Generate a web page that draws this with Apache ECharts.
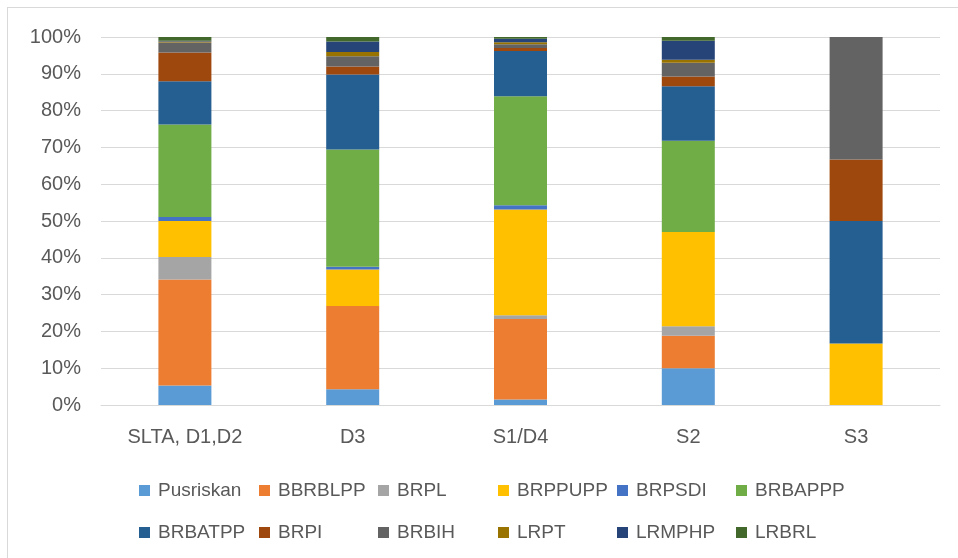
<!DOCTYPE html>
<html>
<head>
<meta charset="utf-8">
<script src="https://cdn.jsdelivr.net/npm/echarts@6/dist/echarts.min.js"></script>
<style>
  html, body { margin: 0; padding: 0; background: #fff; }
  #frame { position: absolute; left: 7px; top: 7px; width: 960px; height: 560px; border: 1px solid #d9d9d9; box-sizing: border-box; }
  #chart { position: absolute; left: 0; top: 0; width: 958px; height: 558px; }
</style>
</head>
<body>
<div id="frame"></div>
<div id="chart"></div>
<script>
// Education levels along the x axis
const categories = ['SLTA, D1,D2', 'D3', 'S1/D4', 'S2', 'S3'];

// Share (%) of each unit within every education level
const pusriskan = [5.3, 4.3, 1.5, 10.0, 0];
const bbrblpp   = [28.8, 22.6, 21.9, 8.8, 0];
const brpl      = [6.1, 0, 1.0, 2.6, 0];
const brppupp   = [9.8, 9.9, 28.7, 25.6, 16.7];
const brpsdi    = [1.1, 0.8, 1.2, 0, 0];
const brbappp   = [25.1, 31.8, 29.6, 24.8, 0];
const brbatpp   = [11.8, 20.4, 12.3, 14.8, 33.3];
const brpi      = [7.8, 2.2, 0.8, 2.7, 16.7];
const brbih     = [2.7, 2.8, 1.0, 3.7, 33.3];
const lrpt      = [0.3, 1.1, 0.6, 0.8, 0];
const lrmphp    = [0.2, 2.9, 0.9, 5.2, 0];
const lrbrl     = [1.0, 1.2, 0.5, 1.0, 0];

const seriesNames = ['Pusriskan', 'BBRBLPP', 'BRPL', 'BRPPUPP', 'BRPSDI', 'BRBAPPP',
                     'BRBATPP', 'BRPI', 'BRBIH', 'LRPT', 'LRMPHP', 'LRBRL'];
const seriesValues = [pusriskan, bbrblpp, brpl, brppupp, brpsdi, brbappp,
                      brbatpp, brpi, brbih, lrpt, lrmphp, lrbrl];

// Y axis tick labels
const yTicks = ['0%', '10%', '20%', '30%', '40%', '50%', '60%', '70%', '80%', '90%', '100%'];

const colors = ['#5B9BD5', '#ED7D31', '#A5A5A5', '#FFC000', '#4472C4', '#70AD47',
                '#255E91', '#9E480E', '#636363', '#997300', '#264478', '#43682B'];

const FONT = 'Liberation Sans';
const TEXT = '#595959';

// Legend laid out as a 6 x 2 grid
const legendCols = [134, 254, 373, 493, 612, 731];
const legendRows = [476, 518];
const legends = seriesNames.map((name, i) => ({
  data: [name],
  left: legendCols[i % 6],
  top: legendRows[Math.floor(i / 6)],
  icon: 'rect',
  itemWidth: 11,
  itemHeight: 11,
  selectedMode: false,
  textStyle: { fontFamily: FONT, fontSize: 19, color: TEXT, padding: [0, 0, 0, 3] }
}));

const chart = echarts.init(document.getElementById('chart'), null, { renderer: 'canvas' });
chart.setOption({
  animation: false,
  color: colors,
  grid: { left: 101, right: 18, top: 37, bottom: 153, containLabel: false },
  legend: legends,
  xAxis: {
    type: 'category',
    data: categories,
    axisLine: { show: true, lineStyle: { color: '#d9d9d9', width: 1 } },
    axisTick: { show: false },
    axisLabel: { fontFamily: FONT, fontSize: 20, color: TEXT, margin: 22 }
  },
  yAxis: {
    type: 'value',
    min: 0,
    max: 100,
    interval: 10,
    axisLine: { show: false },
    axisTick: { show: false },
    splitLine: { lineStyle: { color: '#d9d9d9', width: 1 } },
    axisLabel: {
      fontFamily: FONT, fontSize: 20, color: TEXT, margin: 20,
      formatter: v => yTicks[Math.round(v / 10)]
    }
  },
  series: seriesNames.map((name, i) => ({
    name: name,
    type: 'bar',
    stack: 'total',
    barWidth: 53,
    data: seriesValues[i]
  }))
});
</script>
</body>
</html>
